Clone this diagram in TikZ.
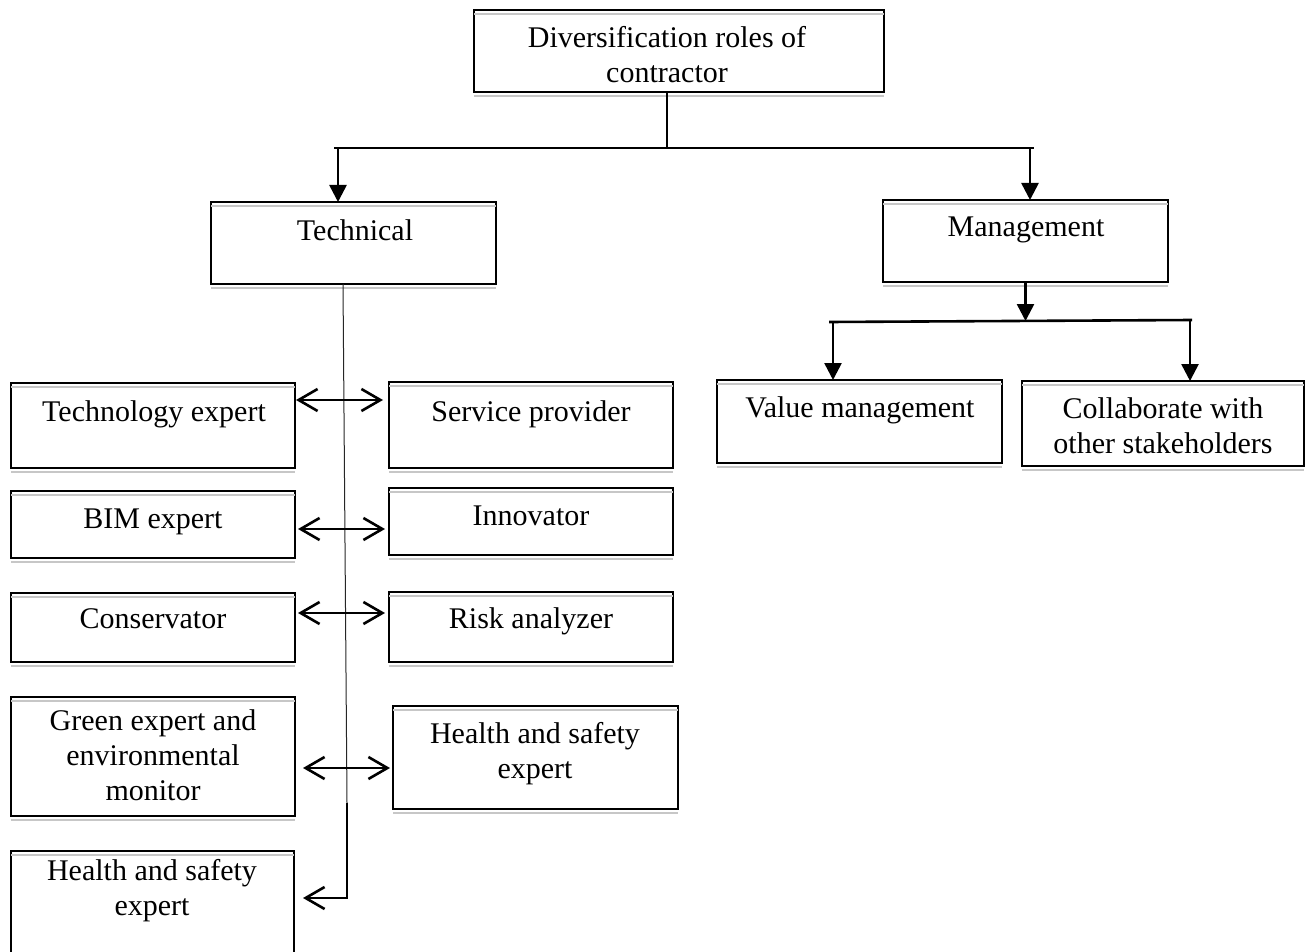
\documentclass[tikz,border=0pt]{standalone}
\usepackage{fontspec}
\setmainfont{Liberation Serif}
\usetikzlibrary{arrows.meta,calc}
\newcommand\mybox[5]{\node[box, minimum width={(#4-#2)*0.5pt}, minimum height={(#5-#3)*0.5pt}] (#1) at ({(#2+#4)/2},{(#3+#5)/2}) {};
  \draw[shd] ([yshift=-2pt]#1.north west) -- ([yshift=-2pt]#1.north east);
  \draw[shd] ([yshift=-2pt]#1.south west) -- ([yshift=-2pt]#1.south east);}
\begin{document}
\begin{tikzpicture}[x=0.5pt,y=-0.5pt,
  font=\fontsize{15}{17.5}\selectfont,
  box/.style={draw, line width=1pt, inner sep=0pt, outer sep=0pt},
  shd/.style={draw=black!22, line width=0.8pt},
  txt/.style={align=center, inner sep=0pt, anchor=base},
  conn/.style={line width=1.3pt},
  down/.style={conn, -{Triangle[length=8.5pt,width=8.5pt]}},
  dbl/.style={line width=1.3pt, {Straight Barb[length=9.5pt,width=11pt]}-{Straight Barb[length=9.5pt,width=11pt]}},
  thin/.style={line width=0.5pt, draw=black!85}]
\useasboundingbox (0,0) rectangle (1305,952);
\begin{scope}
\clip (0,0) rectangle (1305,952);
\mybox{top}{474}{10}{884}{92}
\mybox{tech}{211}{202}{496}{284}
\mybox{mgmt}{883}{200}{1168}{282}
\mybox{val}{717}{380}{1002}{463}
\mybox{coll}{1022}{381}{1304}{466}
\mybox{tex}{11}{383}{295}{468}
\mybox{serv}{389}{382}{673}{468}
\mybox{bim}{11}{491}{295}{558}
\mybox{inno}{389}{488}{673}{555}
\mybox{cons}{11}{593}{295}{662}
\mybox{risk}{389}{592}{673}{662}
\mybox{green}{11}{697}{295}{816}
\mybox{hsr}{393}{706}{678}{809}
\mybox{hsb}{11}{851}{294}{975}
\end{scope}

% multi-line texts are placed by the baseline of their last line
\node[txt] (top-t) at (667,83) {Diversification roles of\\contractor};
\node[txt] (tech-t) at (355,241) {Technical};
\node[txt] (mgmt-t) at (1026,236) {Management};
\node[txt] (val-t) at (860,417) {Value management};
\node[txt] (coll-t) at (1163,453) {Collaborate with\\other stakeholders};
\node[txt] (tex-t) at (154,421) {Technology expert};
\node[txt] (serv-t) at (531,421) {Service provider};
\node[txt] (bim-t) at (153,528) {BIM expert};
\node[txt] (inno-t) at (531,525) {Innovator};
\node[txt] (cons-t) at (153,628) {Conservator};
\node[txt] (risk-t) at (531,628) {Risk analyzer};
\node[txt] (green-t) at (153,800) {Green expert and\\environmental\\monitor};
\node[txt] (hsr-t) at (535,778) {Health and safety\\expert};
\node[txt] (hsb-t) at (152,915) {Health and safety\\expert};

% top level connectors
\coordinate (jl) at (334,148);
\coordinate (jr) at (1034,148);
\coordinate (a1) at (338,148);
\coordinate (a2) at (1030,148);
\draw[conn] (top-t |- top.south) -- (top-t |- jl);
\draw[conn] (jl) -- (jr);
\draw[down] (a1) -- (a1 |- tech.north);
\draw[down] (a2) -- (a2 |- mgmt.north);

% management branch
\coordinate (ml) at (829,322);
\coordinate (mr) at (1192,320);
\coordinate (b1) at (833,322);
\coordinate (b2) at (1190,320);
\draw[down] (mgmt.south) -- (mgmt.south |- 0,321);
\draw[conn] (ml) -- (mr);
\draw[down] (b1) -- (b1 |- val.north);
\draw[down] (b2) -- (b2 |- coll.north);

% technical spine
\coordinate (t1) at (343,284);
\coordinate (t2) at (347,803);
\coordinate (t3) at (347,898);
\draw[thin] (tech.south -| t1) -- (t2);
\draw[conn, -{Straight Barb[length=9.5pt,width=11pt]}, shorten >=4.5pt] (t2) -- (t3) -- (hsb.east |- t3);

% side arrows
\coordinate (r1) at (0,400);
\coordinate (r2) at (0,529);
\coordinate (r3) at (0,613);
\coordinate (r4) at (0,768);
\draw[dbl, shorten <=0.5pt, shorten >=3pt] (tex.east |- r1) -- (serv.west |- r1);
\draw[dbl, shorten <=1.5pt, shorten >=2pt] (bim.east |- r2) -- (inno.west |- r2);
\draw[dbl, shorten <=1.5pt, shorten >=2pt] (cons.east |- r3) -- (risk.west |- r3);
\draw[dbl, shorten <=4pt, shorten >=1.5pt] (green.east |- r4) -- (hsr.west |- r4);
\end{tikzpicture}
\end{document}
